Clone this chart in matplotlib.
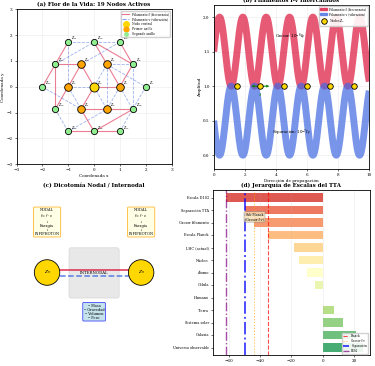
import matplotlib.pyplot as plt
import matplotlib.patches as mpatches
from matplotlib.lines import Line2D
import numpy as np

plt.rcParams['font.family'] = ['DejaVu Serif']
plt.rcParams['font.size'] = 3.0
plt.rcParams['axes.linewidth'] = 0.6
plt.rcParams['xtick.major.width'] = 0.4
plt.rcParams['ytick.major.width'] = 0.4
plt.rcParams['xtick.major.size'] = 1.5
plt.rcParams['ytick.major.size'] = 1.5
plt.rcParams['xtick.major.pad'] = 1.5
plt.rcParams['ytick.major.pad'] = 1.5

# --- (a) Flor de la vida: nodos y filamentos ---
node_x = [0, 1, 0.5, -0.5, -1, -0.5, 0.5,
          2, 1.5, 1, 0, -1, -1.5, -2, -1.5, -1, 0, 1, 1.5]
node_y = [0, 0, 0.87, 0.87, 0, -0.87, -0.87,
          0, 0.87, 1.73, 1.73, 1.73, 0.87, 0, -0.87, -1.73, -1.73, -1.73, -0.87]
node_ring = [0] + [1] * 6 + [2] * 12
f_edges = [(11, 12), (12, 13), (12, 3), (12, 14), (10, 2), (10, 8), (9, 8), (8, 1),
           (2, 1), (3, 4), (3, 0), (0, 1), (0, 5), (5, 6), (6, 18), (18, 16),
           (16, 17), (16, 15), (5, 16), (14, 4)]
v_edges = [(11, 10), (10, 9), (11, 4), (12, 10), (9, 3), (2, 7), (8, 18), (8, 2),
           (1, 18), (1, 6), (0, 2), (0, 4), (0, 6), (2, 6), (13, 5), (4, 5),
           (14, 15), (15, 6), (7, 18), (17, 18)]

# --- (b) filamentos intercalados ---
wave_period = 1.5
wave_amp = 0.5
f_center = 1.5
v_center = 0.5
node_pos_b = [1.5, 3.0, 4.5, 6.0, 7.5, 9.0]

# --- (d) jerarquia de escalas ---
scale_names = ['Escala D102', 'Separación TTA', 'Grosor filamento', 'Escala Planck',
               'LHC (actual)', 'Núcleo', 'Átomo', 'Célula', 'Humano', 'Tierra',
               'Sistema solar', 'Galaxia', 'Universo observable']
scale_log = [-61.8, -49.5, -43.6, -34.8, -18.0, -15.0, -10.0, -5.0, 0.2, 7.0, 13.0, 21.0, 26.0]
ref_lines = [('Planck', -34.8), ('Grosor f-v', -43.6), ('Separación', -49.5), ('D102', -61.8)]

fig = plt.figure(figsize=(3.75, 3.66), dpi=100)
W, H = 375.0, 366.0


def box(l, t, r, b):
    return [l / W, 1 - b / H, (r - l) / W, (b - t) / H]


red = '#DC143C'
blue = '#4169E1'

# ---------------- (a) ----------------
ax1 = fig.add_axes(box(15.7, 9.3, 172.3, 164.3))
for i, j in f_edges:
    ax1.plot([node_x[i], node_x[j]], [node_y[i], node_y[j]], '-', color=red, lw=0.8, alpha=0.55, zorder=1)
for i, j in v_edges:
    ax1.plot([node_x[i], node_x[j]], [node_y[i], node_y[j]], '--', color=blue, lw=0.6, alpha=0.5, zorder=1)
ring_col = ['#FFD700', '#FFA500', '#90EE90']
ring_size = [6.5, 5.5, 4.5]
for k, (x, y) in enumerate(zip(node_x, node_y)):
    r = node_ring[k]
    ax1.plot(x, y, 'o', ms=ring_size[r], mfc=ring_col[r], mec='black', mew=0.6, zorder=3)
    ax1.text(x + 0.12, y + 0.1, r'$Z_{%d}$' % k, fontsize=2.3, zorder=4)
ax1.set_xlim(-3, 3)
ax1.set_ylim(-3, 3)
ax1.set_aspect('equal')
ax1.grid(True, alpha=0.25, lw=0.4)
ax1.set_xlabel('Coordenada x', labelpad=1)
ax1.set_ylabel('Coordenada y', labelpad=1)
ax1.set_title('(a) Flor de la Vida: 19 Nodos Activos', fontsize=4.0, fontweight='bold', pad=2)
h_a = [Line2D([], [], color=red, lw=0.8, alpha=0.6, label='Filamento f (frecuencia)'),
       Line2D([], [], color=blue, lw=0.8, ls='--', alpha=0.6, label='Filamento v (vibración)'),
       Line2D([], [], marker='o', ls='', ms=4, mfc='#FFD700', mec='#FFD700', label='Nodo central'),
       Line2D([], [], marker='o', ls='', ms=3.5, mfc='#FFA500', mec='#FFA500', label='Primer anillo'),
       Line2D([], [], marker='o', ls='', ms=2.5, mfc='#90EE90', mec='#90EE90', label='Segundo anillo')]
ax1.legend(handles=h_a, loc='upper right', fontsize=2.2, framealpha=0.9, borderpad=0.4,
           handlelength=2.2, labelspacing=0.3, edgecolor='#cccccc')

# ---------------- (b) ----------------
ax2 = fig.add_axes(box(213.7, 4.7, 369.3, 169))
xb = np.linspace(0, 10, 600)
f_wave = f_center + wave_amp * np.sin(2 * np.pi * xb / wave_period)
v_wave = v_center - wave_amp * np.sin(2 * np.pi * xb / wave_period)
ax2.plot(xb, f_wave, color=red, lw=5.0, alpha=0.7, solid_capstyle='butt')
ax2.plot(xb, v_wave, color=blue, lw=5.0, alpha=0.7, solid_capstyle='butt')
ax2.plot(node_pos_b, [1.0] * len(node_pos_b), 'o', ms=4, mfc='#FFD700', mec='black', mew=0.6, zorder=5)
ax2.annotate('', xy=(3.75, 1.0), xytext=(2.25, 1.0),
             arrowprops=dict(arrowstyle='<->', color='green', lw=0.7, mutation_scale=3))
ax2.text(3.0, 0.86, r'$\lambda$', color='green', fontsize=3, ha='center')
ax2.text(4.9, 1.71, r'Grosor: $10^{-6}\ell_P$', fontsize=2.8, ha='center')
ax2.text(5.0, 0.31, r'Separación: $10^{-7}\ell_P$', fontsize=2.8, ha='center')
ax2.set_xlim(0, 10)
ax2.set_ylim(-0.2, 2.18)
ax2.grid(True, alpha=0.25, lw=0.4)
ax2.set_xlabel('Dirección de propagación', labelpad=1)
ax2.set_ylabel('Amplitud', labelpad=1)
ax2.set_title('(b) Filamentos f-v Intercalados', fontsize=4.0, fontweight='bold', pad=2)
h_b = [mpatches.Patch(color=red, alpha=0.7, label='Filamento f (frecuencia)'),
       mpatches.Patch(color=blue, alpha=0.7, label='Filamento v (vibración)'),
       Line2D([], [], marker='o', ls='', ms=4, mfc='#FFD700', mec='black', mew=0.6, label=r'Nodos $Z_n$')]
ax2.legend(handles=h_b, loc='upper right', fontsize=2.2, framealpha=0.9, borderpad=0.4,
           handlelength=2.2, labelspacing=0.3, edgecolor='#cccccc')

# ---------------- (c) ----------------
ax3 = fig.add_axes(box(15.7, 190, 172.5, 355))
ax3.set_xlim(0, 10)
ax3.set_ylim(0, 10)
ax3.axis('off')
ax3.set_title('(c) Dicotomía Nodal / Internodal', fontsize=4.0, fontweight='bold', pad=2)
ax3.add_patch(mpatches.FancyBboxPatch((3.45, 3.5), 3.1, 2.95, boxstyle='round,pad=0.05,rounding_size=0.15',
                                      fc='#d3d3d3', ec='#bbbbbb', alpha=0.5, lw=0.5, zorder=1))
ax3.plot([2.8, 7.2], [5.17, 5.17], '-', color=red, lw=1.3, alpha=0.75, zorder=2)
ax3.plot([2.8, 7.2], [4.77, 4.77], '--', color=blue, lw=1.1, alpha=0.85, zorder=2)
ax3.text(5.0, 5.0, 'INTERNODAL', fontsize=2.8, ha='center', va='center', zorder=3)
for cx in (2.0, 8.0):
    ax3.add_patch(mpatches.Ellipse((cx, 5.0), 1.62, 1.55, fc='#FFD700', ec='black', lw=0.6, zorder=4))
    ax3.text(cx, 5.0, r'$Z_n$', fontsize=3.2, ha='center', va='center', zorder=5)
    ax3.text(cx, 8.06, 'NODAL\n' + r'$f = f \cdot v$' + '\n↓\nEnergía\n↓\nINFIPHOTON',
             fontsize=2.5, ha='center', va='center', linespacing=1.05,
             bbox=dict(boxstyle='round,pad=0.3', fc='#FFFFE0', ec='orange', lw=0.6, alpha=0.8))
ax3.text(5.0, 2.62, '• Masa\n• Gravedad\n• Volumen\n• Peso', fontsize=2.5, ha='center', va='center',
         linespacing=1.05, bbox=dict(boxstyle='round,pad=0.3', fc='#ADD8E6', ec='blue', lw=0.6, alpha=0.7))

# ---------------- (d) ----------------
ax4 = fig.add_axes(box(213, 190, 369.7, 355))
yd = np.arange(len(scale_names))
cols = plt.cm.RdYlGn(np.linspace(0.1, 0.9, len(scale_names)))
ax4.barh(yd, scale_log, height=0.7, color=cols, alpha=0.8)
ls_map = {'Planck': ('red', '--', 0.8), 'Grosor f-v': ('orange', ':', 0.8),
          'Separación': ('blue', '-.', 1.4), 'D102': ('purple', '-.', 1.0)}
for name, val in ref_lines:
    c, ls, lw = ls_map[name]
    ax4.axvline(val, color=c, ls=ls, lw=lw, alpha=0.7, label=name)
ax4.text(-43.5, 1.55, 'Sub-Planck\n(Grosor f-v)', fontsize=2.3, ha='center', va='center',
         bbox=dict(boxstyle='round,pad=0.3', fc='wheat', ec='gray', lw=0.4, alpha=0.8))
ax4.set_yticks(yd)
ax4.set_yticklabels(scale_names, fontsize=2.5)
ax4.set_xlim(-70, 30)
ax4.set_ylim(12.6, -0.6)
ax4.grid(True, axis='x', alpha=0.25, lw=0.4)
ax4.set_xlabel(r'$\log_{10}$(Escala en metros)', labelpad=1)
ax4.set_title('(d) Jerarquía de Escalas del TTA', fontsize=4.0, fontweight='bold', pad=2)
ax4.legend(loc='lower right', fontsize=2.0, framealpha=0.9, borderpad=0.4,
           handlelength=2.2, labelspacing=0.3, edgecolor='#cccccc')

fig.savefig('out.png', dpi=100)
